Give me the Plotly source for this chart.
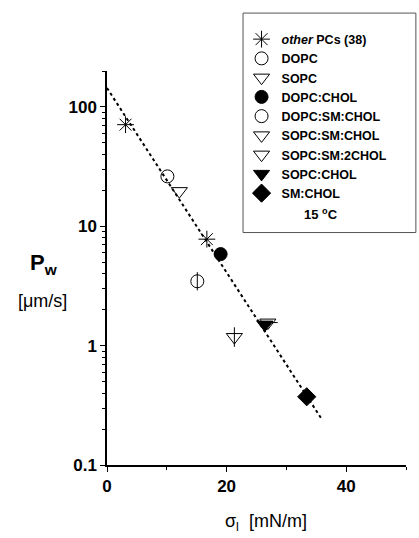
import plotly.graph_objects as go

# ---- data ----
other_x = [3.1, 16.7]
other_y = [71.0, 7.8]
dopc_x, dopc_y = [10.1], [26.2]
sopc_x, sopc_y = [12.1], [19.7]
dopc_chol_x, dopc_chol_y = [19.0], [5.85]
dopc_sm_chol_x, dopc_sm_chol_y = [15.1], [3.46]
sopc_sm_chol_x, sopc_sm_chol_y = [21.3], [1.18]
sopc_sm_2chol_x, sopc_sm_2chol_y = [26.9], [1.56]
sopc_chol_x, sopc_chol_y = [26.4], [1.50]
sm_chol_x, sm_chol_y = [33.4], [0.373]
fit_x = [0.0, 35.8]
fit_y = [144.0, 0.247]

FONT = "Liberation Sans"
BLK = "black"

fig = go.Figure()

fig.add_trace(go.Scatter(x=fit_x, y=fit_y, mode="lines",
                         line=dict(color=BLK, width=2, dash="dot"),
                         showlegend=False, hoverinfo="skip"))

def mk(x, y, name, symbol, size=13, show=True):
    fig.add_trace(go.Scatter(
        x=x, y=y, mode="markers", name=name, showlegend=show,
        marker=dict(symbol=symbol, size=size, color=BLK,
                    line=dict(color=BLK, width=1))))

mk(other_x, other_y, "<i>other</i> PCs (38)", "asterisk-open", 14)
mk(dopc_x, dopc_y, "DOPC", "circle-open", 13)
mk(sopc_x, sopc_y, "SOPC", "triangle-down-open", 14)
mk(dopc_chol_x, dopc_chol_y, "DOPC:CHOL", "circle", 13)
mk(dopc_sm_chol_x, dopc_sm_chol_y, "DOPC:SM:CHOL", "circle-open", 13)
mk(dopc_sm_chol_x, dopc_sm_chol_y, "", "line-ns-open", 13, show=False)
mk(sopc_sm_chol_x, sopc_sm_chol_y, "SOPC:SM:CHOL", "triangle-down-open", 14)
mk(sopc_sm_chol_x, sopc_sm_chol_y, "", "line-ns-open", 14, show=False)
mk(sopc_sm_2chol_x, sopc_sm_2chol_y, "SOPC:SM:2CHOL", "triangle-down-open", 14)
mk(sopc_sm_2chol_x, sopc_sm_2chol_y, "", "line-ew-open", 14, show=False)
mk(sopc_chol_x, sopc_chol_y, "SOPC:CHOL", "triangle-down", 14)
mk(sm_chol_x, sm_chol_y, "SM:CHOL", "diamond", 14)

tickfont = dict(family=FONT, size=17, color=BLK, weight="bold")

fig.update_layout(
    width=419, height=538, autosize=False,
    margin=dict(l=107, r=13, t=71, b=73),
    paper_bgcolor="white", plot_bgcolor="white",
    font=dict(family=FONT, color=BLK),
    xaxis=dict(range=[0, 50], dtick=20, tick0=0, showgrid=False, zeroline=False,
               showline=True, linecolor=BLK, linewidth=1.5,
               ticks="outside", ticklen=5, tickwidth=1, tickcolor=BLK,
               minor=dict(dtick=10, ticks="outside", ticklen=3, tickcolor=BLK),
               tickfont=tickfont),
    yaxis=dict(type="log", range=[-1, 2.301], dtick=1, showgrid=False, zeroline=False,
               showline=True, linecolor=BLK, linewidth=1.5,
               ticks="outside", ticklen=5, tickwidth=1, tickcolor=BLK,
               minor=dict(dtick="D1", ticks="outside", ticklen=3, tickcolor=BLK),
               tickfont=tickfont),
    legend=dict(x=0.45, y=1.118, xanchor="left", yanchor="top",
                bgcolor="rgba(0,0,0,0)", borderwidth=0,
                font=dict(family=FONT, size=12.5, color=BLK, weight="bold")),
    shapes=[dict(type="rect", xref="paper", yref="paper",
                 x0=0.455, x1=1.033, y0=0.59, y1=1.147,
                 line=dict(color="#555", width=1))],
    annotations=[
        dict(text="15 <sup>o</sup>C", xref="paper", yref="paper", x=0.716, y=0.637,
             xanchor="center", yanchor="middle",
             showarrow=False, font=dict(family=FONT, size=13, weight="bold")),
        dict(text="P<sub>w</sub>", xref="paper", yref="paper", x=-0.214, y=0.51,
             xanchor="center", yanchor="middle",
             showarrow=False, font=dict(family=FONT, size=22, weight="bold")),
        dict(text="[μm/s]", xref="paper", yref="paper", x=-0.216, y=0.416,
             xanchor="center", yanchor="middle",
             showarrow=False, font=dict(family=FONT, size=18)),
        dict(text="σ<sub>l</sub>  [mN/m]", xref="paper", yref="paper", x=0.532, y=-0.147,
             xanchor="center", yanchor="middle",
             showarrow=False, font=dict(family=FONT, size=18)),
    ],
)

fig.write_html("out.html")
